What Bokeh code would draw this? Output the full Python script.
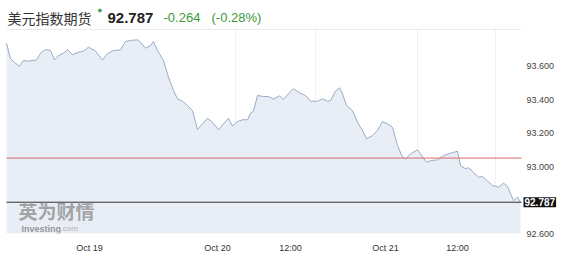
from bokeh.plotting import figure
from bokeh.models import ColumnDataSource, Range1d, FixedTicker, Label
from bokeh.embed import file_html
from bokeh.resources import INLINE

# ---- data (x = 10-minute bar index, values = US Dollar Index futures) ----
bar_x = [0, 4, 7, 13, 17, 21, 30, 34, 39, 44, 48, 52, 57, 61, 66, 72, 77, 82, 89, 96,
         101, 107, 114, 119, 124, 131, 134, 139, 144, 147, 151, 157, 162, 167, 171, 176,
         181, 186, 191, 196, 201, 206, 212, 217, 222, 226, 231, 236, 241, 244, 247, 251,
         257, 262, 267, 273, 277, 283, 287, 292, 299, 304, 311, 316, 321, 324, 329, 333,
         336, 340, 346, 351, 356, 360, 366, 371, 376, 381, 386, 391, 396, 399, 404, 411,
         414, 420, 424, 431, 437, 444, 451, 454, 459, 462, 467, 472, 476, 481, 486, 492,
         497, 501, 507, 511, 514]
price = [93.737, 93.646, 93.628, 93.600, 93.634, 93.630, 93.638, 93.678, 93.700, 93.694,
         93.638, 93.664, 93.678, 93.700, 93.668, 93.684, 93.690, 93.714, 93.690, 93.638,
         93.676, 93.694, 93.698, 93.748, 93.754, 93.758, 93.743, 93.708, 93.724, 93.748,
         93.694, 93.634, 93.534, 93.455, 93.405, 93.391, 93.365, 93.335, 93.222, 93.256,
         93.289, 93.265, 93.220, 93.256, 93.289, 93.243, 93.269, 93.280, 93.280, 93.319,
         93.332, 93.425, 93.419, 93.419, 93.404, 93.423, 93.401, 93.443, 93.465, 93.445,
         93.425, 93.391, 93.391, 93.405, 93.391, 93.395, 93.451, 93.471, 93.435, 93.365,
         93.335, 93.265, 93.216, 93.166, 93.186, 93.216, 93.269, 93.256, 93.235, 93.126,
         93.056, 93.046, 93.076, 93.100, 93.076, 93.026, 93.036, 93.040, 93.066, 93.080,
         93.092, 93.006, 92.987, 92.993, 92.966, 92.936, 92.941, 92.913, 92.887, 92.877,
         92.901, 92.881, 92.797, 92.817, 92.787]
last_price = 92.787
change = "-0.264"
change_pct = "(-0.28%)"
prev_close = 93.051
title_text = "美元指数期货"

x_tick_pos = [83, 211, 284, 379, 451]
x_tick_labels = ["Oct 19", "Oct 20", "12:00", "Oct 21", "12:00"]
x_grid_pos = [229, 309, 411, 489]
y_ticks = [92.6, 93.0, 93.2, 93.4, 93.6]
y_tick_labels = ["92.600", "93.000", "93.200", "93.400", "93.600"]

# chart area extent (in data units) and the wider canvas frame around it
chart_x0, chart_x1 = 0, 515
chart_y0, chart_y1 = 92.6, 93.8195
frame_x = (-6, 551)
frame_y = (92.6, 93.993)

src = ColumnDataSource(dict(x=bar_x, y=price, base=[chart_y0] * len(price)))

p = figure(width=567, height=262, output_backend="svg", toolbar_location=None,
           x_range=Range1d(*frame_x), y_range=Range1d(*frame_y),
           x_axis_location="below", y_axis_location="right",
           min_border_left=0, min_border_right=10, min_border_top=0, min_border_bottom=29)
p.background_fill_color = "white"
p.border_fill_color = "white"
p.outline_line_color = None
p.grid.visible = False

# faint vertical grid lines and top border of the chart area
p.segment(x0=x_grid_pos, x1=x_grid_pos, y0=[chart_y0] * len(x_grid_pos),
          y1=[chart_y1] * len(x_grid_pos), line_color="#eef0f3", line_width=1)

p.varea(x="x", y1="base", y2="y", source=src, fill_color="#e9eef6")
p.line(x="x", y="y", source=src, line_color="#98abc6", line_width=1)
p.line(x=[chart_x0, chart_x1], y=[chart_y1, chart_y1], line_color="#ebebeb", line_width=1)

# reference lines: previous close (red) and last price (dark)
p.line(x=[chart_x0, chart_x1], y=[prev_close, prev_close], line_color="#d9686a", line_width=1)
p.line(x=[chart_x0, chart_x1], y=[last_price, last_price], line_color="#333333", line_width=1)

# axes
xa = p.xaxis[0]
xa.ticker = FixedTicker(ticks=x_tick_pos)
xa.major_label_overrides = {t: l for t, l in zip(x_tick_pos, x_tick_labels)}
xa.axis_line_color = None
xa.major_tick_line_color = None
xa.minor_tick_line_color = None
xa.major_tick_out = 0
xa.major_label_standoff = 9
xa.major_label_text_font = "Liberation Sans"
xa.major_label_text_font_size = "9px"
xa.major_label_text_color = "#333333"

ya = p.yaxis[0]
ya.ticker = FixedTicker(ticks=y_ticks)
ya.major_label_overrides = {t: l for t, l in zip(y_ticks, y_tick_labels)}
ya.axis_line_color = None
ya.major_tick_line_color = None
ya.minor_tick_line_color = None
ya.major_tick_out = 0
ya.major_tick_in = 0
ya.major_label_standoff = -31
ya.major_label_text_font = "Liberation Sans"
ya.major_label_text_font_size = "9px"
ya.major_label_text_color = "#444444"

# current price tag
p.add_layout(Label(x=chart_x1, y=last_price, text=f"{last_price:.3f}", x_offset=2,
                   text_baseline="middle", text_align="left",
                   text_font="Liberation Sans", text_font_size="10px", text_font_style="bold",
                   text_color="white", background_fill_color="#111111", padding=1))

# watermark
p.add_layout(Label(x=18, y=23, x_units="screen", y_units="screen", text="英为财情",
                   text_font="Noto Sans CJK SC", text_font_size="19px", text_font_style="bold",
                   text_color="#8a8a8a", text_alpha=0.75, text_baseline="middle"))
p.add_layout(Label(x=21, y=5, x_units="screen", y_units="screen", text="Investing",
                   text_font="Liberation Sans", text_font_size="9px", text_font_style="bold",
                   text_color="#8a8a8a", text_alpha=0.9, text_baseline="middle"))
p.add_layout(Label(x=60, y=5, x_units="screen", y_units="screen", text=".com",
                   text_font="Liberation Sans", text_font_size="8px",
                   text_color="#b0b0b0", text_baseline="middle"))

# header
p.add_layout(Label(x=7, y=216, x_units="screen", y_units="screen", text=title_text,
                   text_font="Noto Sans CJK SC", text_font_size="14px",
                   text_color="#333333", text_baseline="middle"))
p.add_layout(Label(x=97, y=224, x_units="screen", y_units="screen", text="◆",
                   text_font="DejaVu Sans", text_font_size="6px",
                   text_color="#3fa34d", text_baseline="middle"))
p.add_layout(Label(x=107, y=216, x_units="screen", y_units="screen", text=f"{last_price:.3f}",
                   text_font="Liberation Sans", text_font_size="15px", text_font_style="bold",
                   text_color="#222222", text_baseline="middle"))
p.add_layout(Label(x=163, y=216, x_units="screen", y_units="screen", text=change,
                   text_font="Liberation Sans", text_font_size="13px",
                   text_color="#3a9a3a", text_baseline="middle"))
p.add_layout(Label(x=211, y=216, x_units="screen", y_units="screen", text=change_pct,
                   text_font="Liberation Sans", text_font_size="13px",
                   text_color="#3a9a3a", text_baseline="middle"))

open("out.html", "w").write(file_html(p, INLINE))
